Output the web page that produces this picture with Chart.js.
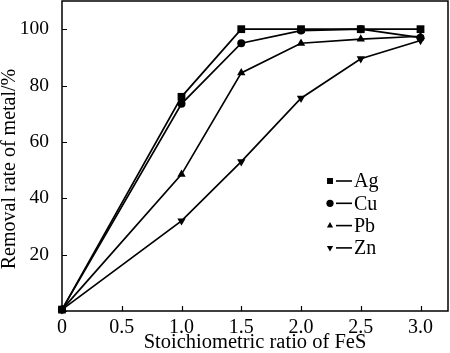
<!DOCTYPE html>
<html lang="en">
<head>
  <meta charset="UTF-8">
  <title>Removal rate vs FeS ratio</title>
  <script src="https://cdn.jsdelivr.net/npm/chart.js"></script>
  <style>
    html, body { margin: 0; padding: 0; background: #fff; }
    #wrap { width: 450px; height: 353px; }
  </style>
</head>
<body>
  <div id="wrap"><canvas id="chart" width="450" height="353"></canvas></div>
  <script>
    // data
    const ratios = [0, 1.0, 1.5, 2.0, 2.5, 3.0];
    const ag = [0.5, 76, 100, 100, 100, 100];
    const cu = [0.5, 73.5, 95, 99.5, 100, 97];
    const pb = [0.5, 48.5, 84.5, 95, 96.5, 97.5];
    const zn = [0.5, 32, 53, 75.5, 89.5, 96];

    const xTicks = [0, 0.5, 1.0, 1.5, 2.0, 2.5, 3.0];
    const xTickLabels = ['0', '0.5', '1.0', '1.5', '2.0', '2.5', '3.0'];
    const yTicks = [0, 20, 40, 60, 80, 100];
    const yTickLabels = ['', '20', '40', '60', '80', '100'];
    const yTitle = 'Removal rate of metal/%';

    const FONT = "'Liberation Serif', 'Times New Roman', serif";

    function series(label, vals, style, rot, r) {
      return {
        label: label,
        data: ratios.map((x, i) => ({ x: x, y: vals[i] })),
        borderColor: '#000',
        backgroundColor: '#000',
        borderWidth: 1.7,
        pointStyle: style,
        rotation: rot,
        pointRadius: r,
        pointBorderWidth: 0,
        tension: 0,
        clip: false
      };
    }

    // inward tick marks, full frame, y title, legend inside the plot
    const framePlugin = {
      id: 'frame',
      afterDraw(chart) {
        const ctx = chart.ctx;
        const a = chart.chartArea;
        const xs = chart.scales.x, ys = chart.scales.y;
        ctx.save();
        ctx.strokeStyle = '#000';
        ctx.lineWidth = 1.5;
        ctx.strokeRect(a.left, a.top, a.right - a.left, a.bottom - a.top);
        ctx.lineWidth = 1.2;
        ctx.beginPath();
        xTicks.forEach(v => {
          const px = Math.round(xs.getPixelForValue(v)) + 0.5;
          ctx.moveTo(px, a.bottom);
          ctx.lineTo(px, a.bottom - 5);
        });
        yTicks.forEach(v => {
          const py = Math.round(ys.getPixelForValue(v)) + 0.5;
          ctx.moveTo(a.left, py);
          ctx.lineTo(a.left + 5, py);
        });
        ctx.stroke();

        // y title, sits a bit below the axis middle in the original
        ctx.save();
        ctx.translate(10, 169);
        ctx.rotate(-Math.PI / 2);
        ctx.font = '20px ' + FONT;
        ctx.textAlign = 'center';
        ctx.textBaseline = 'middle';
        ctx.fillStyle = '#000';
        ctx.fillText(yTitle, 0, 0);
        ctx.restore();

        // legend
        const lx = 330, ly0 = 181, dy = 22.3;
        ctx.font = '20px ' + FONT;
        ctx.textBaseline = 'middle';
        ctx.fillStyle = '#000';
        chart.data.datasets.forEach((ds, i) => {
          const y = ly0 + i * dy;
          Chart.helpers.drawPoint(ctx, {
            pointStyle: ds.pointStyle,
            rotation: ds.rotation,
            radius: ds.pointStyle === 'rect' ? 4.2 : 3.6,
            borderWidth: 0
          }, lx, y);
          ctx.beginPath();
          ctx.lineWidth = 1.6;
          ctx.moveTo(lx + 6, y);
          ctx.lineTo(lx + 22, y);
          ctx.stroke();
          ctx.fillText(ds.label, lx + 24, y + 1);
        });
        ctx.restore();
      }
    };

    new Chart(document.getElementById('chart'), {
      type: 'line',
      data: {
        datasets: [
          series('Ag', ag, 'rect', 0, 5.5),
          series('Cu', cu, 'circle', 0, 4),
          series('Pb', pb, 'triangle', 0, 4.8),
          series('Zn', zn, 'triangle', 180, 4.8)
        ]
      },
      options: {
        responsive: false,
        animation: false,
        devicePixelRatio: 1,
        layout: { autoPadding: false, padding: { top: 1, right: 2, left: 0, bottom: 0 } },
        plugins: {
          legend: { display: false },
          tooltip: { enabled: false }
        },
        scales: {
          x: {
            type: 'linear',
            min: 0,
            max: 3.23,
            afterBuildTicks: axis => { axis.ticks = xTicks.map(v => ({ value: v })); },
            afterFit: axis => {
              axis.height = 42;
              axis.paddingLeft = 0;
              axis.paddingRight = 0;
            },
            grid: { display: false },
            border: { display: false },
            ticks: {
              color: '#000',
              padding: -1,
              maxRotation: 0,
              font: { family: FONT, size: 20, lineHeight: 1 },
              callback: v => xTickLabels[xTicks.indexOf(v)]
            },
            title: {
              display: true,
              text: 'Stoichiometric ratio of FeS',
              color: '#000',
              padding: 0,
              font: { family: FONT, size: 20.5, lineHeight: 1 }
            }
          },
          y: {
            min: 0,
            max: 110,
            afterBuildTicks: axis => { axis.ticks = yTicks.map(v => ({ value: v })); },
            afterFit: axis => {
              axis.width = 62;
              axis.paddingTop = 0;
              axis.paddingBottom = 0;
            },
            grid: { display: false },
            border: { display: false },
            ticks: {
              color: '#000',
              padding: 5,
              font: { family: FONT, size: 19.5, lineHeight: 1 },
              callback: v => yTickLabels[yTicks.indexOf(v)]
            },
            title: { display: false }
          }
        }
      },
      plugins: [framePlugin]
    });
  </script>
</body>
</html>
